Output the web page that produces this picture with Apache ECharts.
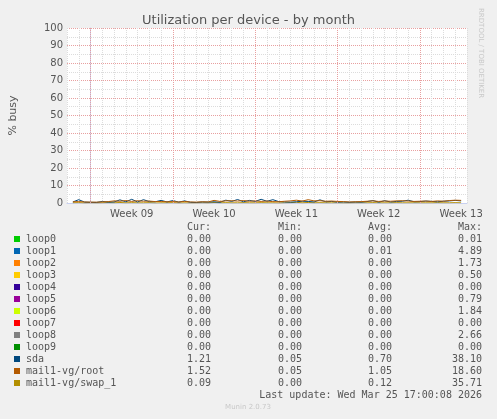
<!DOCTYPE html>
<html><head><meta charset="utf-8">
<script src="https://cdn.jsdelivr.net/npm/echarts@6/dist/echarts.min.js"></script>
<style>html,body{margin:0;padding:0;background:#f0f0f0}#c{width:497px;height:419px}</style>
</head><body><div id="c"></div>
<script>
// day offsets relative to Monday of Week 09, 12-hour steps
const startDay = -1.5, stepDay = 0.5;
const weekStarts = [0,7,14,21,28];
const sda =  [0.6,1.9,0.5,0.4,0.3,0.9,0.5,0.6,1.8,0.7,2.1,0.6,1.9,0.8,0.7,1.5,0.6,1.4,0.5,1.2,0.4,0.3,0.6,0.5,0.7,0.4,1.6,0.9,2.0,0.7,1.5,0.9,2.1,1.0,1.9,0.8,0.6,0.5,0.7,1.0,0.9,0.6,1.8,0.7,0.9,0.5,0.6,0.4,0.6,0.5,0.8,1.4,0.5,1.3,0.6,0.9,1.0,1.6,0.7,0.8,1.1,0.9,0.7,1.0,1.2,1.5,1.2];
const root = [0.7,0.8,0.6,0.5,0.5,0.6,0.8,1.2,1.0,1.4,0.9,1.3,1.0,1.1,0.8,0.9,0.7,0.8,0.6,0.9,0.6,0.5,0.7,0.6,1.5,0.9,1.2,1.3,1.1,1.4,1.0,1.2,0.9,1.1,0.8,0.7,1.0,1.2,1.6,1.1,1.9,1.2,1.3,1.0,1.1,0.9,0.8,0.6,0.7,0.8,1.0,1.2,0.9,1.1,1.0,1.2,1.3,1.1,0.9,1.0,1.1,0.9,1.2,1.0,1.4,1.6,1.5];
const swap = [0.1,0.2,0.0,0.1,0.0,0.1,0.2,0.1,0.3,0.1,0.2,0.1,0.1,0.2,0.0,0.1,0.1,0.2,0.0,0.1,0.0,0.0,0.1,0.0,0.3,0.1,0.2,0.1,0.1,0.2,0.1,0.1,0.2,0.1,0.1,0.0,0.1,0.2,0.4,0.1,0.3,0.1,0.2,0.1,0.1,0.1,0.0,0.0,0.1,0.1,0.1,0.2,0.1,0.1,0.1,0.2,0.1,0.1,0.1,0.1,0.1,0.1,0.2,0.1,0.1,0.2,0.1];
const yTicks = [0,10,20,30,40,50,60,70,80,90,100];
const legNames = ['loop0','loop1','loop2','loop3','loop4','loop5','loop6','loop7','loop8','loop9','sda','mail1-vg/root','mail1-vg/swap_1'];
const legColors = ['#00cc00','#0066b3','#ff8000','#ffcc00','#330099','#990099','#ccff00','#ff0000','#808080','#008f00','#00487d','#b35a00','#b38f00'];
const curV = ['0.00','0.00','0.00','0.00','0.00','0.00','0.00','0.00','0.00','0.00','1.21','1.52','0.09'];
const minV = ['0.00','0.00','0.00','0.00','0.00','0.00','0.00','0.00','0.00','0.00','0.05','0.05','0.00'];
const avgV = ['0.00','0.01','0.00','0.00','0.00','0.00','0.00','0.00','0.00','0.00','0.70','1.05','0.12'];
const maxV = ['0.01','4.89','1.73','0.50','0.00','0.79','1.84','0.00','2.66','0.00','38.10','18.60','35.71'];

const pts = arr => arr.map((v, i) => [startDay + i * stepDay, v]);
const mono = 'DejaVu Sans Mono';
const g = [];
const hdr = [['Cur:',211],['Min:',302],['Avg:',392],['Max:',482]];
hdr.forEach(h => g.push({type:'text',x:h[1],y:222,style:{text:h[0],font:'10px '+mono,fill:'#555',align:'right'}}));
legNames.forEach((n, k) => {
  const y = 234 + k * 12;
  g.push({type:'rect',shape:{x:14,y:y+2,width:6,height:6},style:{fill:legColors[k]}});
  g.push({type:'text',x:26,y:y,style:{text:n,font:'10px '+mono,fill:'#555'}});
  [[curV,211],[minV,302],[avgV,392],[maxV,482]].forEach(c =>
    g.push({type:'text',x:c[1],y:y,style:{text:c[0][k],font:'10px '+mono,fill:'#555',align:'right'}}));
});
g.push({type:'text',x:482,y:390,style:{text:'Last update: Wed Mar 25 17:00:08 2026',font:'10px '+mono,fill:'#555',align:'right'}});
g.push({type:'text',x:248,y:404,style:{text:'Munin 2.0.73',font:'7px DejaVu Sans',fill:'#c8c8c8',align:'center'}});
g.push({type:'text',x:484,y:8,rotation:-Math.PI/2,style:{text:'RRDTOOL / TOBI OETIKER',font:'7px DejaVu Sans',fill:'#c8c8c8'}});

const chart = echarts.init(document.getElementById('c'));
const ser = (name, data, color) => ({name, type:'line', data:pts(data), symbol:'none', lineStyle:{width:1,color}, itemStyle:{color}, animation:false});
const series = [ser('mail1-vg/swap_1',swap,'#b38f00'),ser('sda',sda,'#00487d'),ser('mail1-vg/root',root,'#b35a00')];
series[0].markLine = {symbol:'none',silent:true,label:{show:false},lineStyle:{color:'#e8a0a0',type:'dotted',width:1},data:weekStarts.map(d=>({xAxis:d}))};
series[0].z = 1;
chart.setOption({
  backgroundColor:'#f0f0f0',
  title:{text:'Utilization per device - by month',left:'center',top:9,textStyle:{fontFamily:'DejaVu Sans',fontSize:13,fontWeight:'normal',color:'#555'}},
  grid:{left:67,right:30,top:28,bottom:216,backgroundColor:'#fff',show:true,borderWidth:0},
  xAxis:[
    {type:'value',min:-2,max:32,interval:1,
     axisLine:{onZero:false,lineStyle:{color:'#c8d0f0'}},axisTick:{show:false},axisLabel:{show:false},
     splitLine:{show:true,lineStyle:{color:'#dcdcdc',type:'dotted'}}},
    {type:'value',min:-2,max:32,interval:0.5,position:'bottom',
     axisLine:{show:false},axisTick:{show:false},splitLine:{show:false},
     axisLabel:{showMinLabel:true,showMaxLabel:true,formatter:v=>(((v%7)+7)%7===3.5)?'Week '+String(9+Math.floor(v/7)).padStart(2,'0'):'',
       color:'#555',fontFamily:'DejaVu Sans',fontSize:10,margin:6,hideOverlap:false}}
  ],
  yAxis:{type:'value',min:yTicks[0],max:yTicks[yTicks.length-1],interval:10,
    name:'% busy',nameLocation:'middle',nameGap:48,nameTextStyle:{color:'#555',fontFamily:'DejaVu Sans',fontSize:11},
    axisLine:{show:true,lineStyle:{color:'#c8d0f0'}},axisTick:{show:false},
    axisLabel:{color:'#555',fontFamily:'DejaVu Sans',fontSize:10,margin:4},
    splitLine:{lineStyle:{color:'#e8a0a0',type:'dotted'}},
    minorTick:{show:false,splitNumber:2},minorSplitLine:{show:true,lineStyle:{color:'#dcdcdc',type:'dotted'}}},
  series,
  graphic:g
});
</script></body></html>
